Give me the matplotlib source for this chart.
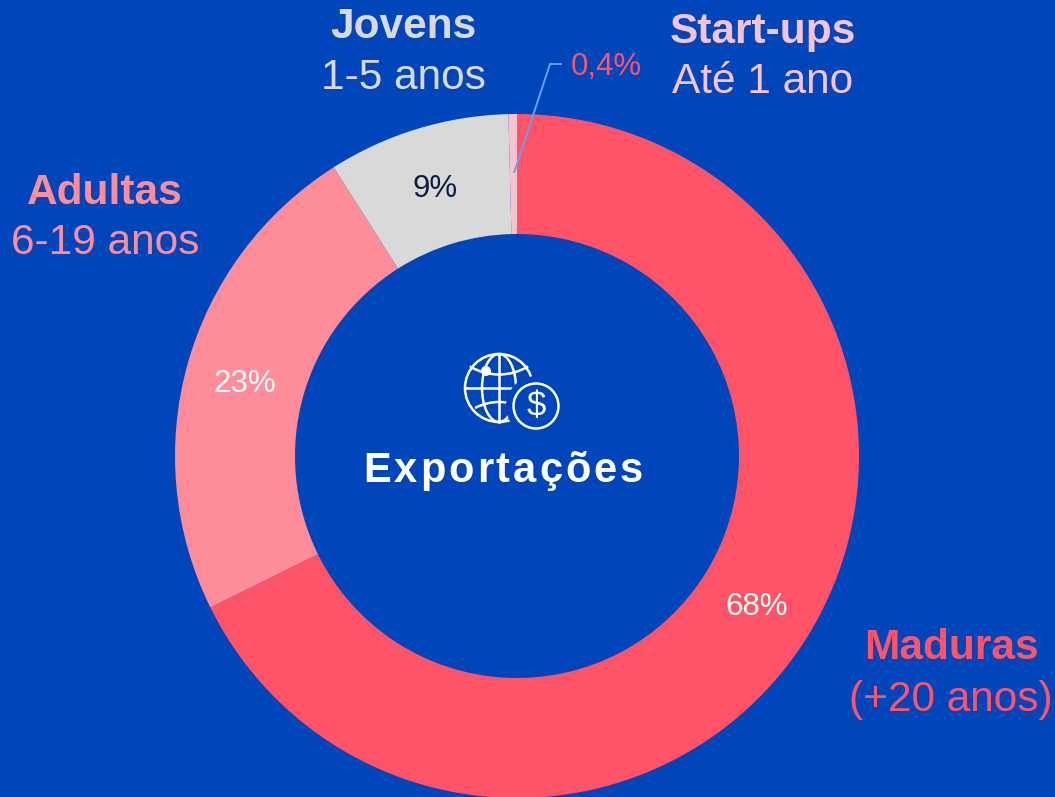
import matplotlib
matplotlib.use("Agg")
import matplotlib.pyplot as plt
from matplotlib.patches import Arc, Circle
from matplotlib.text import Text

plt.rcParams['font.family'] = ['Liberation Sans', 'DejaVu Sans']

# fatias, sentido horario a partir do topo
categories = ["Maduras", "Adultas", "Jovens", "Start-ups"]
ages = ["(+20 anos)", "6-19 anos", "1-5 anos", "Até 1 ano"]
shares = [67.7, 23.3, 8.6, 0.4]
share_labels = ["68%", "23%", "9%", "0,4%"]
colors = ["#FF5468", "#FF8C99", "#D9D9D9", "#F7C3D3"]
center_title = "Exportações"

BG = "#0046BA"
H = 797


# texto com espacamento entre letras (matplotlib nao tem letter-spacing)
class SpacedText(Text):
    spacing = 0

    def draw(self, renderer):
        x0, y0 = self.get_transform().transform(self.get_position())
        s = self.get_text()
        prop = self.get_fontproperties()
        gc = renderer.new_gc()
        gc.set_foreground(self.get_color())
        for i, ch in enumerate(s):
            w_all = renderer.get_text_width_height_descent(s[:i + 1], prop, False)[0]
            w_ch = renderer.get_text_width_height_descent(ch, prop, False)[0]
            renderer.draw_text(gc, x0 + w_all - w_ch + i * self.spacing, renderer.height - y0, ch, prop, 0)
        gc.restore()


fig = plt.figure(figsize=(10.55, 7.97), dpi=100, facecolor=BG)
ax = fig.add_axes([0, 0, 1, 1])

# eixo em pixels, y virado com py()
def py(y):
    return H - y

ax.pie(shares, colors=colors, startangle=90, counterclock=False,
       center=(517, py(456)), radius=342,
       wedgeprops=dict(width=120, edgecolor="none"))
ax.set_xlim(0, 1055)
ax.set_ylim(0, H)
ax.set_aspect("equal")
ax.axis("off")

# titulos das fatias
title_pos = [(951, 648), (105, 193), (403, 27), (763, 32)]
age_pos = [(951, 700), (105, 243), (403, 78), (763, 82)]
for i in range(4):
    ax.text(title_pos[i][0], py(title_pos[i][1]), categories[i], color=colors[i],
            fontsize=30.5, fontweight="bold", ha="center", va="center")
    ax.text(age_pos[i][0], py(age_pos[i][1]), ages[i], color=colors[i],
            fontsize=30.5, ha="center", va="center")

# percentagens
pct_pos = [(757, 607), (245, 384), (435, 189), (606, 67)]
pct_colors = ["white", "white", "#0B1F45", "#FF5468"]
for i in range(4):
    ax.text(pct_pos[i][0], py(pct_pos[i][1]), share_labels[i], color=pct_colors[i],
            fontsize=22.5, ha="center", va="center")

# linha de chamada do 0,4%
ax.plot([514, 550, 562], [py(173), py(64), py(64)], color="#6C9EF2", lw=1.4,
        solid_capstyle="butt", solid_joinstyle="miter")

title = SpacedText(363, py(482), center_title, color="white", fontsize=30, fontweight="bold")
title.spacing = 3
title.set_transform(ax.transData)
ax.add_artist(title)

# icone globo + moeda
gx, gy, gr = 499, py(388), 34
lw_icon = 1.8
ax.add_patch(Circle((gx, gy), gr, fill=False, ec="white", lw=lw_icon))
ax.add_patch(Arc((gx, gy), 34, 2 * gr, fill=False, ec="white", lw=lw_icon))
ax.plot([gx, gx], [gy - gr, gy + gr], color="white", lw=lw_icon)
ax.plot([gx - gr, gx + gr], [gy, gy], color="white", lw=lw_icon)
ax.add_patch(Arc((gx, gy + 70), 113, 113, theta1=239, theta2=301, ec="white", lw=lw_icon))
ax.add_patch(Arc((gx, gy - 65), 102, 102, theta1=62, theta2=118, ec="white", lw=lw_icon))
ax.add_patch(Circle((486, py(371)), 5, fc="white", ec="none"))
ax.add_patch(Circle((536, py(406)), 30, fc=BG, ec="none", zorder=3))
ax.add_patch(Circle((536, py(406)), 22.5, fill=False, ec="white", lw=lw_icon, zorder=4))
ax.text(536, py(406), "$", color="white", fontsize=25, ha="center", va="center", zorder=5)

fig.savefig("out.png", dpi=100, facecolor=BG)
